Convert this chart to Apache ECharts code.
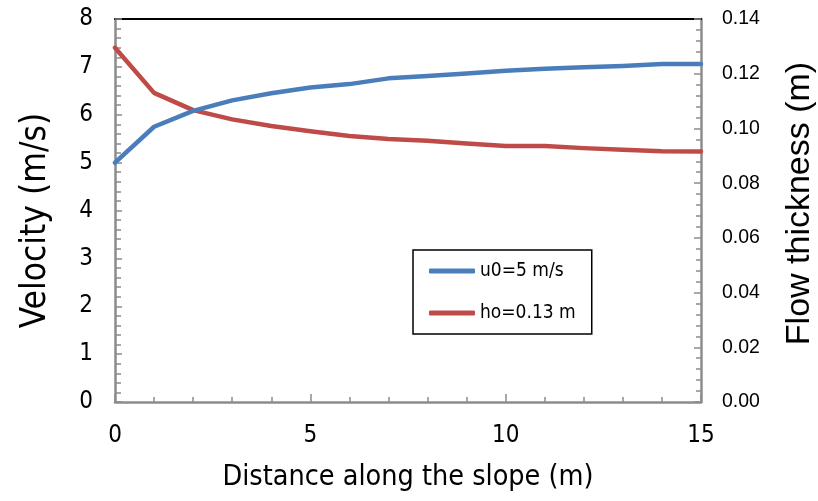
<!DOCTYPE html>
<html>
<head>
<meta charset="utf-8">
<script src="https://cdn.jsdelivr.net/npm/echarts@6/dist/echarts.min.js"></script>
<style>
  html, body { margin: 0; padding: 0; background: #fff; }
  #chart { width: 818px; height: 501px; }
</style>
</head>
<body>
<div id="chart"></div>
<script>
// Distance along the slope (m)
const distance = [0, 1, 2, 3, 4, 5, 6, 7, 8, 9, 10, 11, 12, 13, 14, 15];
// Velocity (m/s), initial velocity u0 = 5 m/s
const velocity = [5.00, 5.75, 6.08, 6.30, 6.45, 6.57, 6.64, 6.76, 6.81, 6.86, 6.92, 6.96, 6.99, 7.02, 7.06, 7.06];
// Flow thickness (m), initial thickness ho = 0.13 m
const thickness = [0.1295, 0.1130, 0.1067, 0.1033, 0.1009, 0.0990, 0.0972, 0.0961, 0.0955, 0.0945, 0.0936, 0.0936, 0.0928, 0.0922, 0.0917, 0.0916];
const seriesNames = ['u0=5 m/s', 'ho=0.13 m'];

const narrow = "'Liberation Sans Narrow', 'DejaVu Sans Condensed', sans-serif";
const regular = "'Liberation Sans', Arial, sans-serif";
const axisGray = '#8c8c8c';

const chart = echarts.init(document.getElementById('chart'), null, { renderer: 'canvas' });

chart.setOption({
  animation: false,
  backgroundColor: '#ffffff',
  grid: { left: 115, right: 117, top: 19, bottom: 99, containLabel: false, outerBoundsMode: 'none' },
  legend: {
    orient: 'vertical',
    left: 413,
    top: 250,
    padding: [10, 16, 10, 16],
    itemGap: 20,
    itemWidth: 46,
    itemHeight: 5,
    icon: 'roundRect',
    borderColor: '#000',
    borderWidth: 1.5,
    borderRadius: 0,
    textStyle: { fontFamily: narrow, fontSize: 19, color: '#000', lineHeight: 22 },
    data: seriesNames
  },
  xAxis: [{
    type: 'value',
    position: 'bottom',
    min: 0,
    max: 15,
    interval: 5,
    name: 'Distance along the slope (m)',
    nameLocation: 'middle',
    nameGap: 61,
    nameTextStyle: { fontFamily: narrow, fontSize: 28.5, color: '#000' },
    axisLine: { show: true, onZero: false, lineStyle: { color: axisGray, width: 2.5 } },
    axisTick: { show: true, inside: true, length: 8, lineStyle: { color: axisGray, width: 1.5 } },
    minorTick: { show: true, splitNumber: 5, length: 5, lineStyle: { color: axisGray, width: 1.5 } },
    axisLabel: { fontFamily: narrow, fontSize: 24, color: '#000', margin: 22 },
    splitLine: { show: false }
  }, {
    type: 'value',
    position: 'top',
    min: 0,
    max: 15,
    axisLine: { show: true, onZero: false, lineStyle: { color: '#000', width: 2 } },
    axisTick: { show: false },
    axisLabel: { show: false },
    splitLine: { show: false }
  }],
  yAxis: [{
    type: 'value',
    position: 'left',
    min: 0,
    max: 8,
    interval: 1,
    name: 'Velocity (m/s)',
    nameLocation: 'middle',
    nameGap: 62,
    nameTextStyle: { fontFamily: narrow, fontSize: 35, color: '#000', padding: [0, 20, 0, 0] },
    axisLine: { show: true, onZero: false, lineStyle: { color: axisGray, width: 2.5 } },
    axisTick: { show: true, inside: true, length: 7, lineStyle: { color: axisGray, width: 1.5 } },
    minorTick: { show: true, splitNumber: 5, length: 6, lineStyle: { color: axisGray, width: 1.5 } },
    axisLabel: { fontFamily: narrow, fontSize: 24, color: '#000', margin: 22 },
    splitLine: { show: false }
  }, {
    type: 'value',
    position: 'right',
    min: 0,
    max: 0.14,
    interval: 0.02,
    name: 'Flow thickness (m)',
    nameLocation: 'middle',
    nameRotate: 90,
    nameGap: 82,
    nameTextStyle: { fontFamily: regular, fontSize: 34, color: '#000', padding: [0, 0, 0, 14] },
    axisLine: { show: true, onZero: false, lineStyle: { color: axisGray, width: 2.5 } },
    axisTick: { show: true, inside: true, length: 7, lineStyle: { color: axisGray, width: 1.5 } },
    minorTick: { show: true, splitNumber: 5, length: 5, lineStyle: { color: axisGray, width: 1.5 } },
    axisLabel: {
      fontFamily: regular, fontSize: 19.5, color: '#000', margin: 21,
      formatter: v => v.toFixed(2)
    },
    splitLine: { show: false }
  }],
  series: [{
    name: seriesNames[0],
    type: 'line',
    xAxisIndex: 0,
    yAxisIndex: 0,
    data: distance.map((d, i) => [d, velocity[i]]),
    showSymbol: false,
    symbol: 'none',
    lineStyle: { color: '#4a7ebb', width: 4.5, cap: 'round', join: 'round' },
    itemStyle: { color: '#4a7ebb' },
    z: 3
  }, {
    name: seriesNames[1],
    type: 'line',
    xAxisIndex: 0,
    yAxisIndex: 1,
    data: distance.map((d, i) => [d, thickness[i]]),
    showSymbol: false,
    symbol: 'none',
    lineStyle: { color: '#be4b48', width: 4.5, cap: 'round', join: 'round' },
    itemStyle: { color: '#be4b48' },
    z: 2
  }]
});
</script>
</body>
</html>
